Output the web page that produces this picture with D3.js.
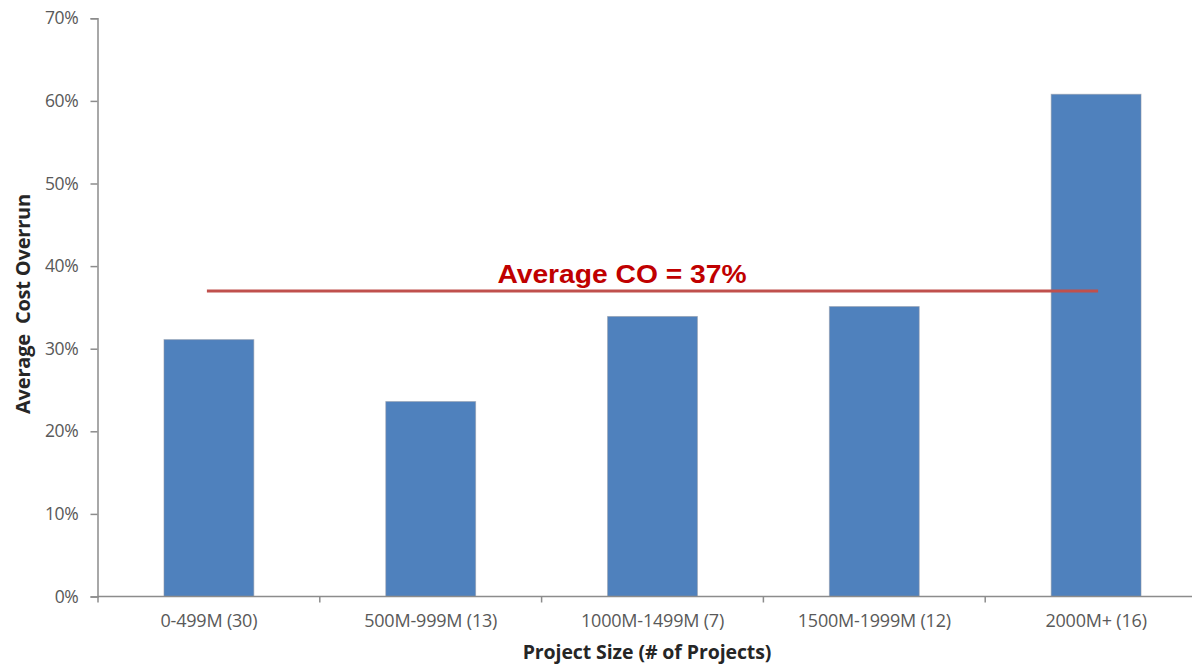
<!DOCTYPE html>
<html>
<head>
<meta charset="utf-8">
<script src="https://cdn.jsdelivr.net/npm/d3@7"></script>
<style>
  html, body { margin: 0; padding: 0; background: #fff; }
  svg { display: block; }
</style>
</head>
<body>
<svg id="chart" width="1192" height="666"></svg>
<script>
// Project size buckets (number of projects in parentheses)
const categories = ["0-499M (30)", "500M-999M (13)", "1000M-1499M (7)", "1500M-1999M (12)", "2000M+ (16)"];
// Average cost overrun per bucket
const overrun = [0.311, 0.236, 0.339, 0.351, 0.608];
// Overall average cost overrun
const averageCO = 0.37;
const yTicks = [0, 0.1, 0.2, 0.3, 0.4, 0.5, 0.6, 0.7];

const svg = d3.select("#chart");
const font = "'Open Sans', 'Noto Sans', sans-serif";
const axisColor = "#8c8c8c";
const labelColor = "#595959";

const x = d3.scaleBand()
  .domain(categories)
  .range([98, 1207])
  .paddingInner(0.595)
  .paddingOuter(0.2975);

const y = d3.scaleLinear()
  .domain([0, 0.7])
  .range([596.5, 18.3]);

// Bars
svg.append("g")
  .selectAll("rect")
  .data(categories)
  .join("rect")
  .attr("x", d => x(d))
  .attr("width", x.bandwidth())
  .attr("y", (d, i) => y(overrun[i]))
  .attr("height", (d, i) => y(0) - y(overrun[i]))
  .attr("fill", "#4f81bd")
  .attr("stroke", "rgba(140,150,165,0.55)")
  .attr("stroke-width", 1);

// Y axis
const yAxis = svg.append("g")
  .attr("transform", "translate(97.5,0)")
  .call(d3.axisLeft(y).tickValues(yTicks).tickFormat(d3.format(".0%")).tickSize(7).tickPadding(12));
yAxis.select(".domain").attr("stroke", axisColor).attr("stroke-width", 1.5);
yAxis.selectAll(".tick line").attr("stroke", axisColor).attr("stroke-width", 1.5);
yAxis.selectAll(".tick text")
  .attr("fill", labelColor)
  .style("font-family", font)
  .style("font-size", "17.5px")
  .style("letter-spacing", "-0.3px");

// X axis baseline
const x0 = 97.5, x1 = 1192;
svg.append("line")
  .attr("x1", x0).attr("x2", x1)
  .attr("y1", y(0)).attr("y2", y(0))
  .attr("stroke", axisColor).attr("stroke-width", 1.5);

// Tick marks at band boundaries
const step = x.step();
const boundaries = d3.range(categories.length + 1).map(i => x.range()[0] + i * step)
  .filter(v => v <= x1);
svg.append("g")
  .selectAll("line")
  .data(boundaries)
  .join("line")
  .attr("x1", d => d).attr("x2", d => d)
  .attr("y1", y(0)).attr("y2", y(0) + 6)
  .attr("stroke", axisColor).attr("stroke-width", 1.5);

// Category labels
svg.append("g")
  .selectAll("text")
  .data(categories)
  .join("text")
  .attr("x", d => x(d) + x.bandwidth() / 2)
  .attr("y", 627)
  .attr("text-anchor", "middle")
  .attr("fill", labelColor)
  .style("font-family", font)
  .style("font-size", "18px")
  .style("letter-spacing", "-0.2px")
  .text(d => d);

// Axis titles
svg.append("text")
  .attr("x", 647)
  .attr("y", 659)
  .attr("text-anchor", "middle")
  .attr("fill", "#262626")
  .style("font-family", font)
  .style("font-weight", "bold")
  .style("font-size", "19.5px")
  .style("letter-spacing", "-0.1px")
  .text("Project Size (# of Projects)");

svg.append("text")
  .attr("transform", "translate(30,304) rotate(-90)")
  .attr("text-anchor", "middle")
  .attr("fill", "#262626")
  .style("font-family", font)
  .style("font-weight", "bold")
  .style("font-size", "20px")
  .style("letter-spacing", "-0.2px")
  .style("white-space", "pre")
  .attr("xml:space", "preserve")
  .text("Average  Cost Overrun");

// Average line across bar centres
const first = categories[0], last = categories[categories.length - 1];
svg.append("line")
  .attr("x1", x(first) + x.bandwidth() / 2 - 2)
  .attr("x2", x(last) + x.bandwidth() / 2 + 2)
  .attr("y1", y(averageCO)).attr("y2", y(averageCO))
  .attr("stroke", "#c0504d")
  .attr("stroke-width", 3);

svg.append("text")
  .attr("transform", "translate(622,283) scale(1.13,1)")
  .attr("text-anchor", "middle")
  .attr("fill", "#c00000")
  .style("font-family", "'Liberation Sans', Arial, sans-serif")
  .style("font-weight", "bold")
  .style("font-size", "25px")
  .text("Average CO = " + d3.format(".0%")(averageCO));
</script>
</body>
</html>
